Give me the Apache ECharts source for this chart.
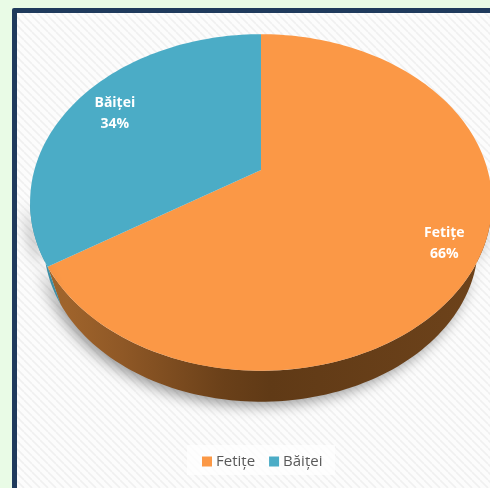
<!DOCTYPE html>
<html><head><meta charset="utf-8">
<style>html,body{margin:0;padding:0;background:#E9FBE6}#c{width:490px;height:488px}</style>
<script src="https://cdn.jsdelivr.net/npm/echarts@6/dist/echarts.min.js"></script>
</head><body><div id="c"></div>
<script>
const categories = ['Fetițe', 'Băiței'];
const values = [66, 34];
const labels = ['66%', '34%'];
const colors = ['#FB9846', '#4BACC6'];
const wallColors = [
  [[0,'#A96B2F'],[0.2,'#8F5826'],[0.42,'#6A4019'],[0.52,'#603A16'],[1,'#6E431B']],
  [[0,'#3E8FA6'],[1,'#347D92']]
];
const labelRadius = [0.85, 0.79];

// Tilted-disc projection of the pie
const P = {x0:261, y0:170, a:226.6, b:162, c:0.193, baseScale:0.94, baseDrop:43};
function project(deg, t){
  const r = deg*Math.PI/180, u = Math.sin(r)*t, v = -Math.cos(r)*t, d = 1 - P.c*v;
  return [P.x0 + P.a*u/d, P.y0 + P.b*v/d];
}
function arc(a0, a1){
  const n = Math.max(2, Math.ceil(Math.abs(a1-a0)/1.5)), pts = [];
  for(let i=0;i<=n;i++) pts.push(project(a0+(a1-a0)*i/n, 1));
  return pts;
}
function toBase(p){
  return [P.x0 + (p[0]-P.x0)*P.baseScale, P.y0 + (p[1]-P.y0)*P.baseScale + P.baseDrop];
}
const total = values.reduce((s,v)=>s+v,0);
const frontFrom = Math.acos(-P.c)*180/Math.PI, frontTo = 360-frontFrom;

function sliceSeries(idx){
  const before = values.slice(0,idx).reduce((s,v)=>s+v,0);
  return {
    type:'custom', name:categories[idx], coordinateSystem:'none',
    itemStyle:{color:colors[idx]},
    z: 5 + idx,
    data:[[values[idx]]],
    renderItem(params, api){
      const a0 = before/total*360, a1 = a0 + api.value(0)/total*360;
      const children = [];
      const w0 = Math.max(a0, frontFrom), w1 = Math.min(a1, frontTo);
      if(w1 > w0){
        const edge = arc(w0,w1);
        const wall = edge.concat(edge.map(toBase).reverse());
        children.push({type:'polygon', shape:{points:wall}, z2:1, style:{
          fill:{type:'linear',global:true,x:30,y:0,x2:492,y2:0,
            colorStops:wallColors[idx].map(s=>({offset:s[0],color:s[1]}))},
          shadowBlur:14, shadowColor:'rgba(0,0,0,0.4)', shadowOffsetX:-4, shadowOffsetY:4
        }});
      }
      const top = [project(0,0)].concat(arc(a0,a1));
      children.push({type:'polygon', shape:{points:top}, z2:2, style:{fill:colors[idx]}});
      const m = project((a0+a1)/2, labelRadius[idx]);
      children.push({type:'text', z2:3, x:m[0], y:m[1]+1, style:{
        text:categories[idx]+'\n'+labels[idx], fill:'#fff', align:'center', verticalAlign:'middle',
        font:'bold 14px "Open Sans", sans-serif', lineHeight:21
      }});
      return {type:'group', children};
    }
  };
}

function hatch(){
  const c = document.createElement('canvas'); c.width = c.height = 8;
  const g = c.getContext('2d');
  g.fillStyle = '#FCFCFC'; g.fillRect(0,0,8,8);
  g.strokeStyle = '#F0F0F0'; g.lineWidth = 1.6;
  for(const o of [-8,0,8]){ g.beginPath(); g.moveTo(o,0); g.lineTo(o+8,8); g.stroke(); }
  return c;
}

const chart = echarts.init(document.getElementById('c'), null, {renderer:'canvas'});
chart.setOption({
  animation:false,
  backgroundColor:'#E9FBE6',
  graphic:[
    {type:'rect', z:0, shape:{x:12,y:8,width:500,height:500,r:2}, style:{fill:'#1F3A5C'}},
    {type:'rect', z:1, shape:{x:17,y:13,width:490,height:490}, style:{fill:{image:hatch(),repeat:'repeat'}}},
    {type:'rect', z:2, shape:{x:187,y:445,width:148,height:30}, style:{fill:'rgba(255,255,255,0.75)'}}
  ],
  legend:{
    data:categories, left:197, top:449, itemWidth:10, itemHeight:10, itemGap:14, icon:'rect',
    textStyle:{color:'#595959', fontSize:15, fontFamily:'"Open Sans", sans-serif', padding:[0,0,0,-1]}
  },
  series:categories.map((_,i)=>sliceSeries(i))
});
</script></body></html>
